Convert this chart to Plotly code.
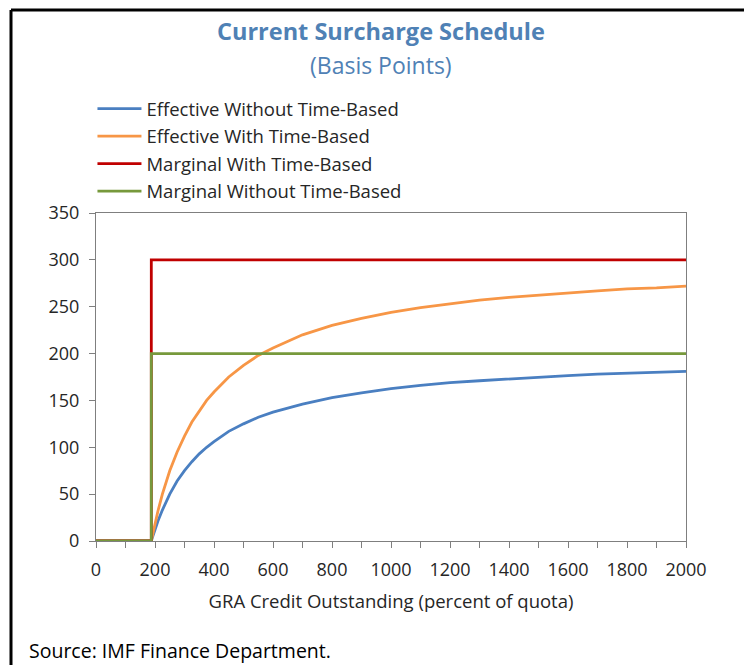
import plotly.graph_objects as go

# Data
credit = [0, 187.5, 190, 195, 200, 210, 225, 250, 275, 300, 325, 350, 375, 400, 450, 500,
          550, 600, 700, 800, 900, 1000, 1100, 1200, 1300, 1400, 1500, 1600, 1700, 1800, 1900, 2000]
eff_without = [0, 0, 2.6, 7.7, 12.5, 21.4, 33, 50, 64, 75, 84.6, 93, 100, 106, 117, 125,
               132, 137.5, 146, 153, 158, 162.5, 166, 169, 171, 173, 175, 176.5, 178, 179, 180, 181]
eff_with = [0, 0, 3.9, 11.5, 19, 32, 50, 75, 95, 112, 127, 139, 150, 159, 175, 187.5,
            198, 206, 220, 230, 237.5, 244, 249, 253, 257, 260, 262.5, 265, 267, 269, 270, 272]
marg_x = [0, 187.5, 187.5, 2000]
marg_with = [0, 0, 300, 300]
marg_without = [0, 0, 200, 200]

names = ["Effective Without Time-Based", "Effective With Time-Based",
         "Marginal With Time-Based", "Marginal Without Time-Based"]
colors = ["#4a7fc1", "#f79646", "#c00000", "#77993c"]

FONT = "Open Sans"
TXT = "#262626"
fig = go.Figure()
series = [(credit, eff_without), (credit, eff_with), (marg_x, marg_with), (marg_x, marg_without)]
for (xs, ys), n, c in zip(series, names, colors):
    fig.add_trace(go.Scatter(x=xs, y=ys, mode="lines", name=n, legendgroup=n,
                             line=dict(color=c, width=2.8)))

axis_common = dict(showline=True, linecolor="#7f7f7f", linewidth=1, mirror=True,
                   ticks="outside", ticklen=6, tickcolor="#7f7f7f", showgrid=False,
                   zeroline=False, tickfont=dict(family=FONT, size=18, color=TXT))
fig.update_xaxes(range=[0, 2000], dtick=200, tick0=0, ticklabelstandoff=6,
                 minor=dict(dtick=100, ticks="outside", ticklen=6, tickcolor="#7f7f7f"),
                 title=dict(text="GRA Credit Outstanding (percent of quota)",
                            font=dict(family=FONT, size=18.5, color=TXT), standoff=15),
                 **axis_common)
fig.update_yaxes(range=[0, 350], dtick=50, ticklabelstandoff=6, **axis_common)

fig.update_layout(
    width=744, height=665,
    margin=dict(l=96, r=58, t=213, b=124),
    paper_bgcolor="white", plot_bgcolor="white",
    showlegend=True,
    legend=dict(x=-0.006, y=1.375, xanchor="left", yanchor="top",
                font=dict(family=FONT, size=18.5, color=TXT),
                tracegroupgap=0.5, itemwidth=44, bgcolor="rgba(0,0,0,0)"),
    annotations=[
        dict(text="<b>Current Surcharge Schedule</b>", x=0.5, xref="paper",
             y=(541 - 31) / 328, yref="paper", showarrow=False, xshift=-10,
             font=dict(family=FONT, size=23.5, color="#4f81b5"), yanchor="middle"),
        dict(text="(Basis Points)", x=0.5, xref="paper",
             y=(541 - 65) / 328, yref="paper", showarrow=False, xshift=-10,
             font=dict(family=FONT, size=23, color="#4f81b5"), yanchor="middle"),
        dict(text="Source: IMF Finance Department.", x=(27 - 96) / 590, xref="paper",
             xanchor="left", y=(541 - 650) / 328, yref="paper", yanchor="middle",
             showarrow=False, font=dict(family=FONT, size=19.5, color="#000000")),
    ],
    shapes=[
        dict(type="line", xref="paper", yref="paper", x0=(11 - 96) / 590, x1=(11 - 96) / 590,
             y0=(541 - 10) / 328, y1=(541 - 670) / 328, line=dict(color="black", width=3)),
        dict(type="line", xref="paper", yref="paper", x0=(11 - 96) / 590, x1=(750 - 96) / 590,
             y0=(541 - 10) / 328, y1=(541 - 10) / 328, line=dict(color="black", width=3)),
    ],
)

fig.write_html("out.html", config={"displayModeBar": False},
               post_script="document.body.style.margin='0';")
